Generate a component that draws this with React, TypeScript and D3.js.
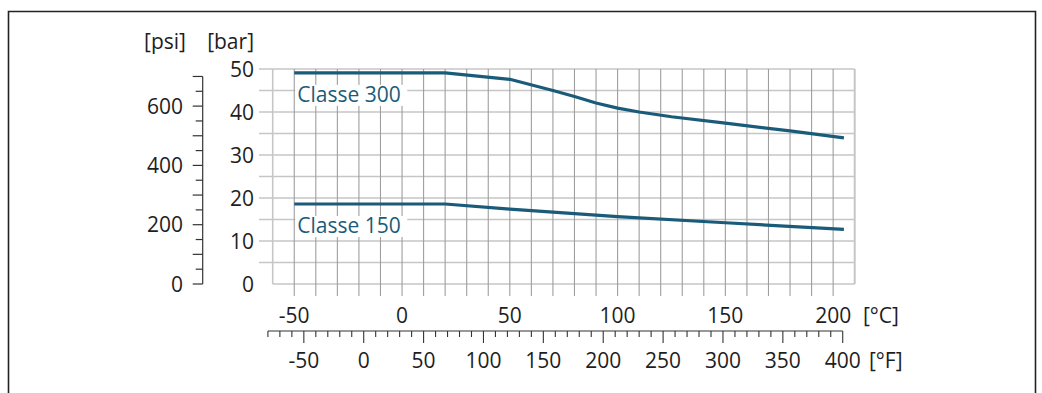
import React from "react";
import * as d3 from "d3";

const barTicks = [0, 10, 20, 30, 40, 50];
const psiTicks = [0, 200, 400, 600];
const celsiusTicks = [-50, 0, 50, 100, 150, 200];
const fahrenheitTicks = [-50, 0, 50, 100, 150, 200, 250, 300, 350, 400];

const class300Temp = [-50, 20, 50, 70, 80, 90, 100, 110, 125, 150, 180, 205];
const class300Bar = [49.1, 49.1, 47.6, 45.0, 43.6, 42.1, 40.9, 40.0, 38.9, 37.4, 35.6, 34.0];
const class150Temp = [-50, 20, 50, 100, 150, 205];
const class150Bar = [18.6, 18.6, 17.4, 15.65, 14.25, 12.7];

const seriesLabels = ["Classe 300", "Classe 150"];

const W = 1042;
const H = 393;
const FONT = "'Open Sans', sans-serif";
const FS = 21;
const TEXT = "#1e1e1e";
const CURVE = "#1a5b7a";

export default function App() {
  const x = d3.scaleLinear().domain([-60, 210]).range([272.7, 854.7]);
  const y = d3.scaleLinear().domain([0, 50]).range([284, 69]);
  const psiPerBar = 14.5038;
  const yPsi = d3.scaleLinear().domain([0, 50 * psiPerBar]).range([284, 69]);
  const fToC = (f: number) => ((f - 32) * 5) / 9;
  const xF = (f: number) => x(fToC(f));

  const line = d3
    .line<[number, number]>()
    .x((d) => x(d[0]))
    .y((d) => y(d[1]))
    .curve(d3.curveLinear);

  const s300: [number, number][] = class300Temp.map((t, i) => [t, class300Bar[i]]);
  const s150: [number, number][] = class150Temp.map((t, i) => [t, class150Bar[i]]);

  const vGrid = d3.range(-50, 201, 10);
  const hGrid = d3.range(5, 51, 5);
  const psiMinor = d3.range(0, 701, 50);
  const fMinor = d3.range(-80, 401, 10);

  const plotL = x(-60);
  const plotR = x(210);
  const plotT = y(50);
  const plotB = y(0);
  const psiX = 202.7;
  const fAxisY = 331;

  const labels = [
    { text: seriesLabels[0], data: s300 },
    { text: seriesLabels[1], data: s150 },
  ];

  return (
    <svg width={W} height={H} style={{ position: "absolute", left: 0, top: 0 }} fontFamily={FONT}>
      <rect x={0} y={0} width={W} height={H} fill="#fff" />
      {/* outer frame */}
      <path d={`M8.5,${H + 5}V11.5H1035.5V${H + 5}`} fill="none" stroke="#222" strokeWidth={1.6} />

      {/* horizontal grid */}
      {hGrid.map((v) => (
        <line key={"h" + v} x1={259} x2={plotR} y1={y(v)} y2={y(v)} stroke="#c6c6c6" strokeWidth={1.4} />
      ))}
      <line x1={plotL} x2={plotR} y1={plotB} y2={plotB} stroke="#c6c6c6" strokeWidth={1.4} />
      {/* vertical grid */}
      {vGrid.map((v) => (
        <line key={"v" + v} x1={x(v)} x2={x(v)} y1={plotT} y2={296} stroke="#9e9e9e" strokeWidth={1.1} />
      ))}
      <line x1={plotL} x2={plotL} y1={plotT} y2={plotB} stroke="#c6c6c6" strokeWidth={1.6} />
      <line x1={plotR} x2={plotR} y1={plotT} y2={plotB} stroke="#c6c6c6" strokeWidth={2} />

      {/* curves */}
      <path d={line(s300) || ""} fill="none" stroke={CURVE} strokeWidth={3.2} strokeLinejoin="round" />
      <path d={line(s150) || ""} fill="none" stroke={CURVE} strokeWidth={3.2} strokeLinejoin="round" />

      {labels.map((l) => {
        const lx = x(l.data[0][0]) + 3;
        const ly = y(l.data[0][1]) + 29;
        return (
          <g key={l.text}>
            <rect x={lx - 2} y={ly - 17} width={112} height={21} fill="#fff" />
            <text x={lx} y={ly} fontSize={FS} fill={CURVE}>
              {l.text}
            </text>
          </g>
        );
      })}

      {/* bar axis labels */}
      {barTicks.map((v) => (
        <text key={"b" + v} x={254} y={y(v)} dy="0.36em" textAnchor="end" fontSize={FS} fill={TEXT}>
          {v}
        </text>
      ))}
      <text x={254} y={49} textAnchor="end" fontSize={FS} fill={TEXT}>[bar]</text>

      {/* psi axis */}
      <line x1={psiX} x2={psiX} y1={yPsi(700)} y2={yPsi(0)} stroke="#333" strokeWidth={1.2} />
      {psiMinor.map((v) => (
        <line
          key={"p" + v}
          x1={psiX - (v % 100 === 0 ? 10 : 7)}
          x2={psiX}
          y1={yPsi(v)}
          y2={yPsi(v)}
          stroke="#333"
          strokeWidth={1.2}
        />
      ))}
      {psiTicks.map((v) => (
        <text key={"pl" + v} x={183} y={yPsi(v)} dy="0.36em" textAnchor="end" fontSize={FS} fill={TEXT}>
          {v}
        </text>
      ))}
      <text x={186} y={49} textAnchor="end" fontSize={FS} fill={TEXT}>[psi]</text>

      {/* celsius labels */}
      {celsiusTicks.map((v) => (
        <text key={"c" + v} x={x(v)} y={315} dy="0.36em" textAnchor="middle" fontSize={FS} fill={TEXT}>
          {v}
        </text>
      ))}
      <text x={863} y={315} dy="0.36em" fontSize={FS} fill={TEXT}>[°C]</text>

      {/* fahrenheit axis */}
      <line x1={xF(-80)} x2={xF(400)} y1={fAxisY} y2={fAxisY} stroke="#333" strokeWidth={1.2} />
      {fMinor.map((f) => (
        <line
          key={"f" + f}
          x1={xF(f)}
          x2={xF(f)}
          y1={fAxisY}
          y2={fAxisY + (f % 50 === 0 ? 12 : 6)}
          stroke="#333"
          strokeWidth={1.1}
        />
      ))}
      {fahrenheitTicks.map((f) => (
        <text key={"fl" + f} x={xF(f)} y={360} dy="0.36em" textAnchor="middle" fontSize={FS} fill={TEXT}>
          {f}
        </text>
      ))}
      <text x={869} y={360} dy="0.36em" fontSize={FS} fill={TEXT}>[°F]</text>
    </svg>
  );
}
